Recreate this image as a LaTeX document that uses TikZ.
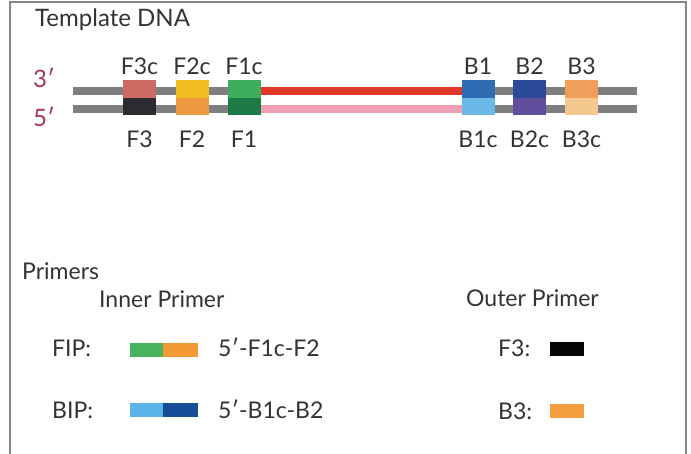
\documentclass[tikz,border=0pt]{standalone}
\usepackage{fontspec}
\setmainfont{Lato}
\begin{document}
\begin{tikzpicture}[x=1pt,y=-1pt,
  txt/.style={font=\fontsize{23}{26}\selectfont, text=black!80, inner sep=0pt, anchor=base},
  txtw/.style={txt, anchor=base west},
  prime/.style={font=\fontsize{24}{27}\selectfont, text=primecol, inner sep=0pt, anchor=base west},
  half/.style={minimum width=33pt, minimum height=17.5pt, inner sep=0pt, draw=none},
  pbar/.style={minimum width=34pt, minimum height=14pt, inner sep=0pt, draw=none},
  strand/.style={line width=8pt, draw=strandgray},
]
\definecolor{strandgray}{HTML}{7F7F7F}
\definecolor{framegray}{HTML}{858585}
\definecolor{primecol}{HTML}{A3365C}
\definecolor{cF3c}{HTML}{CD6A62}
\definecolor{cF3}{HTML}{2C2C30}
\definecolor{cF2c}{HTML}{F4BE22}
\definecolor{cF2}{HTML}{EE9A40}
\definecolor{cF1c}{HTML}{3DAE5C}
\definecolor{cF1}{HTML}{1C7A46}
\definecolor{cred}{HTML}{E0392B}
\definecolor{cpink}{HTML}{F0A0B2}
\definecolor{cB1}{HTML}{2E6DB4}
\definecolor{cB1c}{HTML}{6CB9E8}
\definecolor{cB2}{HTML}{2D4A98}
\definecolor{cB2c}{HTML}{5E4E9C}
\definecolor{cB3}{HTML}{F09E5A}
\definecolor{cB3c}{HTML}{F4C88F}
\definecolor{pgreen}{HTML}{46B45E}
\definecolor{porange}{HTML}{F39A35}
\definecolor{plblue}{HTML}{5AB4E8}
\definecolor{pdblue}{HTML}{164C98}
\definecolor{pblack}{HTML}{050505}
\definecolor{porange2}{HTML}{F4A040}

\useasboundingbox (0,0) rectangle (691,454);
\fill[white] (0,0) rectangle (691,454);
% frame
\draw[framegray, line width=2pt] (10,455) -- (10,2) -- (686,2) -- (686,455);

\node[txtw, font=\fontsize{24}{27}\selectfont] (title) at (35,27) {Template DNA};
\node[prime] (p3) at (33,88) {3′};
\node[prime] (p5) at (33,127) {5′};

% strands
\coordinate (ts) at (73,91);
\coordinate (te) at (637,91);
\coordinate (bs) at (73,109);
\coordinate (be) at (637,109);
\draw[strand] (ts) -- (te);
\draw[strand] (bs) -- (be);
\coordinate (rs) at (261,91);
\coordinate (re) at (462,91);
\coordinate (ps) at (261,109);
\coordinate (pe) at (462,109);
\draw[line width=8pt, cred] (rs) -- (re);
\draw[line width=8pt, cpink] (ps) -- (pe);

% boxes
\foreach \x/\t/\b/\lt/\lb [count=\i] in {139.5/cF3c/cF3/F3c/F3, 192/cF2c/cF2/F2c/F2, 244/cF1c/cF1/F1c/F1,
   478/cB1/cB1c/B1/B1c, 529.5/cB2/cB2c/B2/B2c, 581.5/cB3/cB3c/B3/B3c} {
  \node[half, fill=\t] (top\i) at (\x,89) {};
  \node[half, fill=\b] (bot\i) at (\x,106.5) {};
  \node[txt] (lt\i) at (\x,75) {\lt};
  \node[txt] (lb\i) at (\x,148) {\lb};
}

% primers
\node[txtw] (primers) at (22,280) {Primers};
\node[txtw] (inner) at (99,308) {Inner Primer};
\node[txtw] (outer) at (466,307) {Outer Primer};

\node[txtw] (fip) at (52,357) {FIP:};
\node[pbar, minimum width=33pt, fill=pgreen] (fipa) at (146.5,350) {};
\node[pbar, minimum width=35pt, fill=porange] (fipb) at (180.5,350) {};
\node[txtw] (fipt) at (218,357) {5′-F1c-F2};

\node[txtw] (bip) at (52,418) {BIP:};
\node[pbar, minimum width=33pt, fill=plblue] (bipa) at (146.5,410) {};
\node[pbar, minimum width=35pt, fill=pdblue] (bipb) at (180.5,410) {};
\node[txtw] (bipt) at (218,418) {5′-B1c-B2};

\node[txtw] (f3l) at (498,357) {F3:};
\node[pbar, fill=pblack] (f3b) at (567,349) {};
\node[txtw] (b3l) at (498,419) {B3:};
\node[pbar, fill=porange2] (b3b) at (567,411) {};
\end{tikzpicture}
\end{document}
